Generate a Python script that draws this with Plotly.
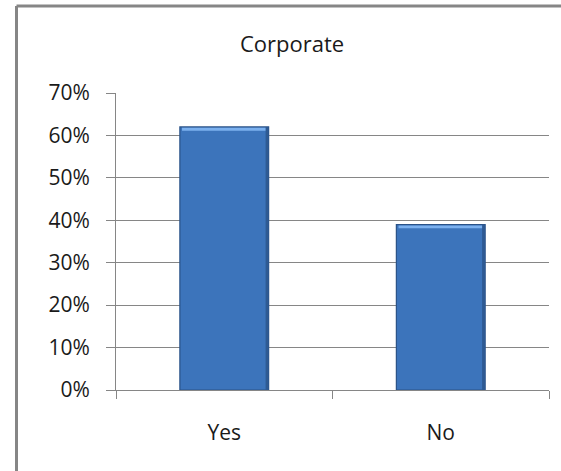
import plotly.graph_objects as go

# Survey answers for the corporate group
categories = ["Yes", "No"]
shares = [0.62, 0.39]
y_ticks = [0, 0.1, 0.2, 0.3, 0.4, 0.5, 0.6, 0.7]

W, H = 561, 471
M_L, M_R, M_T, M_B = 116, 12, 93, 81
plot_w = W - M_L - M_R
plot_h = H - M_T - M_B

BAR_WIDTH = 0.41
GRID = "#868686"
FONT = "Open Sans"
TEXT = "#1a1a1a"


def px_to_paper_x(px):
    return (px - M_L) / plot_w


def px_to_paper_y(py):
    return (H - M_B - py) / plot_h


fig = go.Figure()
fig.add_trace(go.Bar(
    x=categories,
    y=shares,
    width=BAR_WIDTH,
    marker=dict(color="#3C74BB", line=dict(color="#2A5287", width=1.2)),
    hoverinfo="x+y",
))

shapes = []
# bevel highlight along the top of each bar and a shaded right edge
for i, v in enumerate(shares):
    shapes.append(dict(
        type="rect", xref="x", yref="y",
        x0=i - BAR_WIDTH / 2 + 0.01, x1=i + BAR_WIDTH / 2 - 0.01,
        y0=v - 0.009, y1=v - 0.002,
        fillcolor="#7BB0EE", line=dict(width=0), layer="above",
    ))
    shapes.append(dict(
        type="rect", xref="x", yref="y",
        x0=i + BAR_WIDTH / 2 - 0.014, x1=i + BAR_WIDTH / 2,
        y0=0, y1=v,
        fillcolor="#2E5A93", line=dict(width=0), layer="above",
    ))

# chart-area frame (left and top edges)
bx = px_to_paper_x(16.5)
by = px_to_paper_y(6)
shapes.append(dict(type="line", xref="paper", yref="paper",
                   x0=bx, x1=bx, y0=by, y1=px_to_paper_y(H + 5),
                   line=dict(color=GRID, width=3)))
shapes.append(dict(type="line", xref="paper", yref="paper",
                   x0=bx, x1=px_to_paper_x(W + 5), y0=by, y1=by,
                   line=dict(color=GRID, width=3)))

fig.update_layout(
    width=W, height=H,
    margin=dict(l=M_L, r=M_R, t=M_T, b=M_B),
    paper_bgcolor="white",
    plot_bgcolor="white",
    showlegend=False,
    font=dict(family=FONT, size=21, color=TEXT),
    title=dict(
        text="Corporate",
        x=292 / W, xref="container", xanchor="center",
        y=1 - 44 / H, yref="container", yanchor="middle",
        font=dict(family=FONT, size=22, color=TEXT),
    ),
    bargap=1 - BAR_WIDTH,
    shapes=shapes,
)

fig.update_yaxes(
    range=[0, 0.7],
    tickvals=y_ticks,
    tickformat=".0%",
    showgrid=True, gridcolor=GRID, gridwidth=1,
    showline=True, linecolor=GRID, linewidth=1,
    ticks="outside", ticklen=9, tickcolor=GRID,
    ticklabelstandoff=12,
    zeroline=False,
    tickfont=dict(family=FONT, size=21, color=TEXT),
)
fig.update_xaxes(
    showline=True, linecolor=GRID, linewidth=1,
    ticks="outside", ticklen=8, tickcolor=GRID,
    tickson="boundaries",
    ticklabelstandoff=24,
    showgrid=False,
    tickfont=dict(family=FONT, size=21, color=TEXT),
)

fig.write_html("out.html")
